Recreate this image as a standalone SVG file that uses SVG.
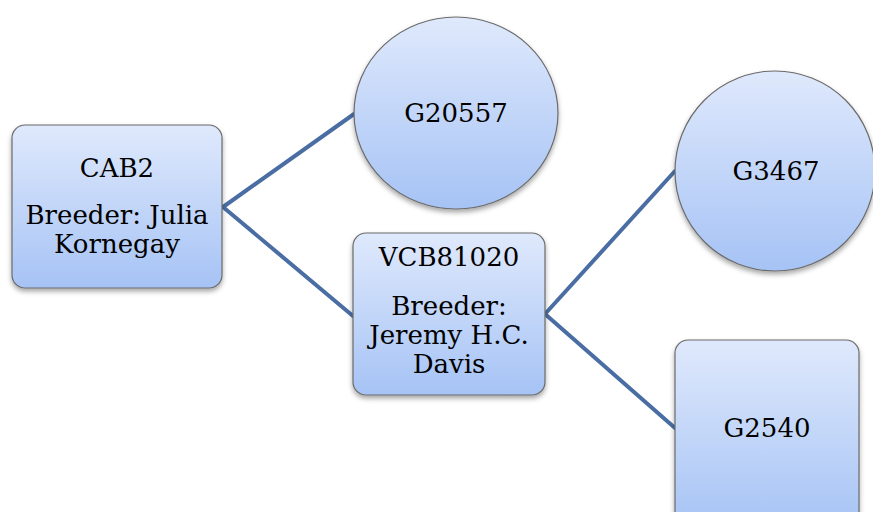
<svg xmlns="http://www.w3.org/2000/svg" width="873" height="512" viewBox="0 0 873 512">
  <defs>
    <linearGradient id="fill" x1="0" y1="0" x2="0" y2="1">
      <stop offset="0" stop-color="#dfe9fc"/>
      <stop offset="1" stop-color="#a6c3f5"/>
    </linearGradient>
    <filter id="shadow" x="-20%" y="-20%" width="140%" height="140%">
      <feDropShadow dx="0" dy="3" stdDeviation="2.5" flood-color="#000" flood-opacity="0.35"/>
    </filter>
  </defs>
  <style>
    .shape { fill: url(#fill); stroke: #6b6b6b; stroke-width: 1.2; filter: url(#shadow); }
    .label { font-family: "DejaVu Serif", "Liberation Serif", serif; font-size: 26px; fill: #000; text-anchor: middle; }
    .edge { stroke: #4a6ea4; stroke-width: 4; fill: none; stroke-linecap: round; }
  </style>
  <rect width="873" height="512" fill="#fff"/>

  <g id="connectors">
    <line class="edge" x1="223" y1="207" x2="354" y2="114"/>
    <line class="edge" x1="223" y1="207" x2="353" y2="316"/>
    <line class="edge" x1="545" y1="314" x2="675" y2="171"/>
    <line class="edge" x1="545" y1="314" x2="675" y2="428"/>
  </g>

  <g id="cab2">
    <rect class="shape" x="12" y="125" width="210" height="163" rx="13"/>
    <text class="label" x="117" y="177">CAB2</text>
    <text class="label" x="117" y="224">Breeder: Julia</text>
    <text class="label" x="117" y="253">Kornegay</text>
  </g>

  <g id="g20557">
    <ellipse class="shape" cx="456" cy="113" rx="102" ry="96"/>
    <text class="label" x="456" y="122">G20557</text>
  </g>

  <g id="vcb81020">
    <rect class="shape" x="353" y="233" width="192" height="162" rx="13"/>
    <text class="label" x="449" y="266">VCB81020</text>
    <text class="label" x="449" y="315">Breeder:</text>
    <text class="label" x="449" y="344">Jeremy H.C.</text>
    <text class="label" x="449" y="373">Davis</text>
  </g>

  <g id="g3467">
    <ellipse class="shape" cx="775" cy="171" rx="100" ry="100"/>
    <text class="label" x="776" y="180">G3467</text>
  </g>

  <g id="g2540">
    <rect class="shape" x="675" y="340" width="184" height="190" rx="13"/>
    <text class="label" x="767" y="437">G2540</text>
  </g>
</svg>
